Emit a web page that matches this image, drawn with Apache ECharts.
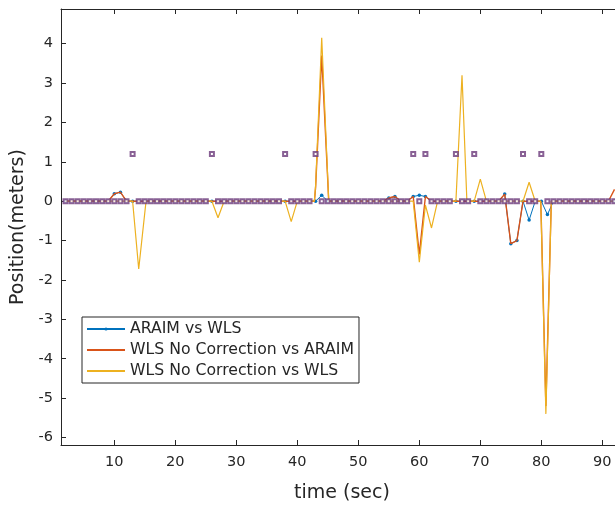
<!DOCTYPE html>
<html>
<head>
<meta charset="utf-8">
<script src="https://cdn.jsdelivr.net/npm/echarts@6/dist/echarts.min.js"></script>
<style>
html,body{margin:0;padding:0;background:#fff;}
#chart{width:615px;height:508px;}
</style>
</head>
<body>
<div id="chart"></div>
<script>
// ---- data ----
const timeSec = [2,3,4,5,6,7,8,9,10,11,12,13,14,15,16,17,18,19,20,21,22,23,24,25,26,27,28,29,30,31,32,33,34,35,36,37,38,39,40,41,42,43,44,45,46,47,48,49,50,51,52,53,54,55,56,57,58,59,60,61,62,63,64,65,66,67,68,69,70,71,72,73,74,75,76,77,78,79,80,81,82,83,84,85,86,87,88,89,90,91,92];
// ARAIM vs WLS (one value per second)
const araimVsWls = [0,0,0,0,0,0,0,0,0.19,0.23,0,0,0,0,0,0,0,0,0,0,0,0,0,0,0,0,0,0,0,0,0,0,0,0,0,0,0,0,0,0,0,0,0.15,0,0,0,0,0,0,0,0,0,0,0.08,0.12,0,0,0.12,0.15,0.12,0,0,0,0,0,0,0,0,0,0,0,0,0.18,-1.08,-1.0,0,-0.48,0,0,-0.34,0,0,0,0,0,0,0,0,0,0,0];
// flag markers (square symbols, not in legend)
const flagValue = [0,0,0,0,0,0,0,0,0,0,0,1.2,0,0,0,0,0,0,0,0,0,0,0,0,1.2,0,0,0,0,0,0,0,0,0,0,0,1.2,0,0,0,0,1.2,0,0,0,0,0,0,0,0,0,0,0,0,0,0,0,1.2,0,1.2,0,0,0,0,1.2,0,0,1.2,0,0,0,0,0,0,0,1.2,0,0,1.2,0,0,0,0,0,0,0,0,0,0,0,0];
// WLS No Correction vs ARAIM (breakpoints)
const noCorrVsAraimTime  = [2,9,10,11,12,42.8,43,44,45,45.15,54,55,56,57,58,59,60,61,62,73,74,75,76,77,79.9,80,80.75,81.55,81.65,91,92];
const noCorrVsAraimValue = [0,0,0.19,0.23,0,0,0.35,3.7,0.5,0,0,0.08,0.12,0,0,0.12,-1.35,0.12,0,0,0.18,-1.08,-1.0,0,0,-0.5,-5.2,-0.5,0,0,0.3];
// WLS No Correction vs WLS (breakpoints)
const noCorrVsWlsTime  = [2,13,14,15.2,26,27,28,38,39,40,42.8,43,44,45,45.15,59,60,61,62,63,66,67,67.8,69,70,71,77,78,79,79.9,80,80.75,81.55,81.65,92];
const noCorrVsWlsValue = [0,0,-1.72,0,0,-0.42,0,0,-0.52,0,0,0.4,4.15,0.55,0,0,-1.55,-0.1,-0.68,0,0,3.2,0,0,0.56,0,0,0.48,0,0,-0.55,-5.4,-0.55,0,0];
const xTicks = [10,20,30,40,50,60,70,80,90];
const yTicks = [-6,-5,-4,-3,-2,-1,0,1,2,3,4];
const seriesNames = ['ARAIM vs WLS','WLS No Correction vs ARAIM','WLS No Correction vs WLS'];

function pairs(t, v){ return t.map((x,i)=>[x, v[i]]); }

const FONT = 'DejaVu Sans';
const AX = '#262626';
const chart = echarts.init(document.getElementById('chart'), null, {renderer:'canvas'});
const xCommon = {
  type:'value', min:1.26, max:92.08,
  axisLine:{show:true, onZero:false, lineStyle:{color:AX, width:1}},
  axisTick:{show:true, inside:true, length:5, customValues:xTicks, lineStyle:{color:AX}},
  splitLine:{show:false}
};
chart.setOption({
  animation:false,
  backgroundColor:'#fff',
  textStyle:{fontFamily:FONT},
  grid:{left:61, top:9, right:0, bottom:57, containLabel:false},
  legend:{
    data:[
      {name:seriesNames[0]},
      {name:seriesNames[1], itemStyle:{opacity:0}},
      {name:seriesNames[2], itemStyle:{opacity:0}}
    ],
    orient:'vertical', left:82, top:317,
    itemWidth:38, itemHeight:4, itemGap:5,
    padding:[4,5,4,4],
    borderColor:AX, borderWidth:1, backgroundColor:'#fff',
    textStyle:{fontFamily:FONT, fontSize:15.7, color:AX},
    selectedMode:false
  },
  xAxis:[
    Object.assign({}, xCommon, {
      position:'bottom',
      name:'time (sec)', nameLocation:'middle', nameGap:39,
      nameTextStyle:{fontFamily:FONT, fontSize:19, color:AX, padding:[0,0,0,8]},
      axisLabel:{show:true, customValues:xTicks, margin:10, fontSize:14.5, color:AX, fontFamily:FONT}
    }),
    Object.assign({}, xCommon, {position:'top', axisLabel:{show:false}})
  ],
  yAxis:{
    type:'value', min:-6.19, max:4.88,
    name:'Position(meters)', nameLocation:'middle', nameGap:26, nameRotate:90,
    nameTextStyle:{fontFamily:FONT, fontSize:19, color:AX},
    axisLine:{show:true, onZero:false, lineStyle:{color:AX, width:1}},
    axisTick:{show:true, inside:true, length:5, customValues:yTicks, lineStyle:{color:AX}},
    axisLabel:{show:true, customValues:yTicks, margin:8, fontSize:14.5, color:AX, fontFamily:FONT},
    splitLine:{show:false}
  },
  series:[
    {
      name:seriesNames[0], type:'line', xAxisIndex:0, z:2,
      data:pairs(timeSec, araimVsWls),
      symbol:'circle', symbolSize:3.5, showSymbol:true, showAllSymbol:true,
      lineStyle:{color:'#0072BD', width:1}, itemStyle:{color:'#0072BD'}
    },
    {
      name:seriesNames[1], type:'line', xAxisIndex:0, z:3,
      data:pairs(noCorrVsAraimTime, noCorrVsAraimValue),
      symbol:'none', showSymbol:false,
      lineStyle:{color:'#D95319', width:1.4}, itemStyle:{color:'#D95319'}
    },
    {
      name:seriesNames[2], type:'line', xAxisIndex:0, z:4,
      data:pairs(noCorrVsWlsTime, noCorrVsWlsValue),
      symbol:'none', showSymbol:false,
      lineStyle:{color:'#EDB120', width:1.2}, itemStyle:{color:'#EDB120'}
    },
    {
      name:'flag', type:'scatter', xAxisIndex:0, z:6,
      data:pairs(timeSec, flagValue),
      symbol:'emptyRect', symbolSize:4,
      itemStyle:{color:'#6b3a7a', borderWidth:1}
    }
  ]
});
</script>
</body>
</html>
